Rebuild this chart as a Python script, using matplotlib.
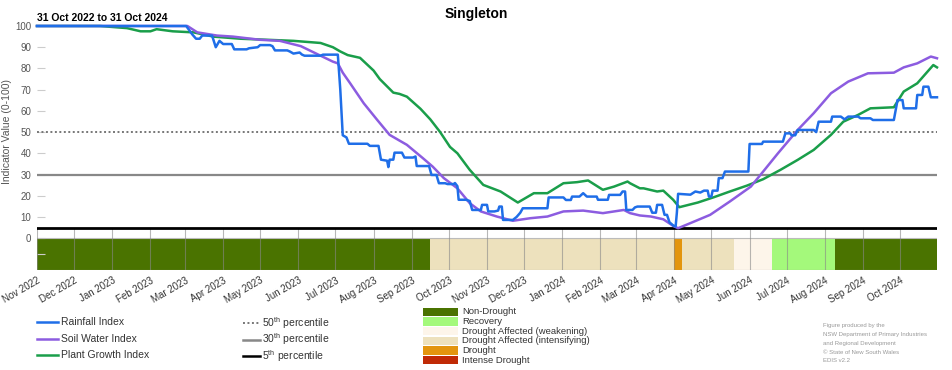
import numpy as np
import pandas as pd
import matplotlib
matplotlib.use("Agg")
import matplotlib.pyplot as plt
import matplotlib.dates as mdates
from matplotlib.patches import Rectangle

plt.rcParams['font.family'] = ['Liberation Sans', 'DejaVu Sans']
plt.rcParams['mathtext.fontset'] = 'custom'
plt.rcParams['mathtext.rm'] = 'Liberation Sans'

# ---------------- data ----------------
START = "2022-11-01"
END = "2024-10-31"
title = "Singleton"
subtitle = "31 Oct 2022 to 31 Oct 2024"

# day offsets from START and index values
rain_days = [0, 121, 126, 129, 132, 134, 142, 145, 148, 151, 158, 160, 170, 172, 179, 181, 189, 191, 193, 203,
             205, 208, 213, 215, 217, 230, 232, 244, 246, 248, 251, 253, 268, 270, 277, 279, 284, 285, 286, 289,
             290, 296, 298, 305, 307, 308, 318, 320, 324, 326, 331, 333, 338, 339, 341, 342, 348, 351, 353, 360,
             361, 365, 366, 371, 374, 375, 377, 378, 386, 389, 392, 394, 414, 415, 427, 429, 433, 434, 440, 443,
             446, 454, 455, 463, 464, 473, 475, 477, 478, 483, 485, 487, 497, 499, 502, 503, 507, 509, 511, 513,
             516, 518, 519, 520, 530, 534, 538, 541, 544, 545, 547, 548, 552, 553, 556, 558, 577, 578, 588, 589,
             605, 607, 611, 612, 615, 617, 630, 632, 634, 644, 645, 652, 655, 658, 666, 668, 676, 678, 695, 698,
             702, 703, 713, 714, 718, 719, 723, 725, 730]
rain_vals = [100, 100, 96, 94, 94, 95.5, 95.5, 90, 93, 91.5, 91.5, 89, 89, 89.5, 90, 91, 91, 90.5, 88.5, 88.5,
             88, 87, 87.5, 86.5, 86, 86, 86.5, 86.5, 70, 48.5, 47.5, 44.5, 44.5, 43.5, 43.5, 37, 36.5, 33.5, 37, 37,
             40.3, 40.3, 38, 38, 38.5, 34, 34, 29.8, 29.8, 25.9, 25.9, 25.5, 25.5, 26, 24.5, 18.1, 18.1, 17.5, 13.3, 13.3,
             15.7, 15.7, 12.6, 12.6, 13, 14.9, 14.9, 8.6, 8.6, 10, 12, 14.1, 14.1, 19.2, 19.2, 18, 18, 19.6, 19.6, 21.2,
             19.6, 19.6, 18.1, 18.1, 20.4, 20.4, 22, 22, 13.3, 13.3, 14.5, 14.9, 14.9, 12, 12, 15.7, 15.7, 11, 11, 7.5,
             6, 5.5, 12, 20.9, 20.5, 22, 21.5, 22.4, 22.4, 19.6, 19.6, 22.4, 22.4, 28.3, 28.3, 31.4, 31.4, 44.4, 44.4, 45.5,
             45.5, 49.4, 49.4, 48.5, 48.5, 51, 51, 50, 54.9, 54.9, 57.3, 57.3, 56, 57.3, 57.3, 56.5, 56.5, 55.7, 55.7, 65.1,
             65.1, 61.2, 61.2, 67.5, 67.5, 71.4, 71.4, 66.4, 66.4]

soil_days = [0, 122, 130, 146, 159, 181, 197, 214, 230, 240, 244, 248, 254, 265, 276, 286, 294, 300, 313, 321,
             330, 341, 351, 360, 373, 386, 400, 414, 427, 443, 459, 476, 481, 489, 498, 508, 516, 520, 530, 546,
             562, 579, 589, 601, 617, 630, 644, 658, 674, 695, 703, 714, 725, 730]
soil_vals = [100, 100, 97, 95.5, 95, 93.5, 93, 90.5, 86, 83.2, 82.4, 78, 73, 63.6, 55.7, 48.7, 46, 44, 37.7, 33.7,
             28.3, 23.5, 16.5, 12.6, 10.2, 8.2, 9.4, 10.2, 12.6, 13, 11.8, 13.3, 11.8, 10.7, 10.2, 8.9, 5.8, 4.7, 7.1, 11,
             17.3, 24.3, 31.4, 40, 51, 58.9, 68.3, 73.8, 77.7, 78, 80.5, 82.4, 85.6, 84.8]

plant_days = [0, 51, 73, 84, 92, 97, 110, 127, 143, 165, 187, 208, 230, 240, 246, 252, 262, 273, 278, 289,
              294, 300, 311, 319, 327, 335, 341, 351, 362, 376, 390, 403, 414, 427, 438, 447, 459, 468, 479, 481,
              489, 492, 503, 508, 516, 521, 536, 549, 562, 576, 589, 603, 617, 630, 644, 654, 666, 676, 695, 703,
              714, 727, 730]
plant_vals = [100, 100, 99, 97.5, 97.5, 98.5, 97.5, 97, 95, 94, 93.5, 93, 92, 90, 88, 86.3, 85, 79, 75, 68.6,
              68, 66.7, 61, 56, 50, 43, 40, 32.2, 25.1, 22, 16.8, 21.2, 21.2, 25.9, 26.4, 27.2, 22.8, 24.3, 26.7, 25.9,
              23.5, 23.5, 22, 22.4, 18.1, 14.6, 16.8, 19.3, 22, 24.8, 27.8, 32.2, 36.9, 41.6, 48.7, 54.9, 58.1, 61.2, 61.7, 69.1,
              73, 81.6, 80.5]

series_names = ["Rainfall Index", "Soil Water Index", "Plant Growth Index"]
series_colors = ["#1f6ee8", "#8c5ce0", "#1a9e4a"]

percentile_values = [50, 30, 5]
percentile_labels = ["50$^{\\mathrm{th}}$ percentile", "30$^{\\mathrm{th}}$ percentile", "5$^{\\mathrm{th}}$ percentile"]

category_names = ["Non-Drought", "Recovery", "Drought Affected (weakening)",
                  "Drought Affected (intensifying)", "Drought", "Intense Drought"]
category_colors = ["#4a7300", "#a4f97b", "#fdf5ea", "#ede1bd", "#e3950e", "#c02a06"]

# category strip: segment start dates and category index
seg_starts = ["2022-11-01", "2023-09-16", "2024-04-01", "2024-04-07", "2024-05-19", "2024-06-19", "2024-08-09"]
seg_cats = [0, 3, 4, 3, 2, 1, 0]

credit_lines = ["Figure produced by the", "NSW Department of Primary Industries",
                "and Regional Development", "\u00a9 State of New South Wales", "EDIS v2.2"]

# ---------------- plot ----------------
start = pd.Timestamp(START)
end = pd.Timestamp(END)


def to_num(days):
    return mdates.date2num(start + pd.to_timedelta(np.asarray(days), unit="D"))


fig = plt.figure(figsize=(9.52, 3.70), dpi=100)
ax = fig.add_axes([37 / 952, 100 / 370, 900 / 952, 244 / 370])
ax.set_xlim(mdates.date2num(start), mdates.date2num(end))
ax.set_ylim(-15, 100)
for s in ax.spines.values():
    s.set_visible(False)

# category strip
seg_nums = [mdates.date2num(pd.Timestamp(d)) for d in seg_starts] + [mdates.date2num(end)]
for i, c in enumerate(seg_cats):
    ax.add_patch(Rectangle((seg_nums[i], -15), seg_nums[i + 1] - seg_nums[i], 15,
                           facecolor=category_colors[c], edgecolor='none', zorder=1))
ax.plot([seg_nums[0], seg_nums[-1]], [0, 0], color='#bbbbbb', lw=0.8, zorder=2)
ax.plot([seg_nums[0], seg_nums[-1]], [-15, -15], color='#999999', lw=0.8, zorder=2)

# month grid lines in strip region
months = pd.date_range("2022-11-01", "2024-10-01", freq="MS")
mnums = mdates.date2num(months)
ax.vlines(mnums, -15, 5, color='#888888', lw=0.8, alpha=0.6, zorder=3)

# percentile lines
ax.axhline(percentile_values[0], color='#777777', lw=1.4, ls=(0, (1, 1.3)), zorder=4)
ax.axhline(percentile_values[1], color='#888888', lw=1.6, zorder=4)
ax.axhline(percentile_values[2], color='black', lw=2.0, zorder=4)

# index lines
ax.plot(to_num(plant_days), plant_vals, color=series_colors[2], lw=1.8, zorder=5, clip_on=False)
ax.plot(to_num(soil_days), soil_vals, color=series_colors[1], lw=1.8, zorder=6, clip_on=False)
ax.plot(to_num(rain_days), rain_vals, color=series_colors[0], lw=1.8, zorder=7, clip_on=False)

# y axis
ax.set_yticks(range(0, 101, 10))
ax.set_yticks([-7.5], minor=True)
ax.tick_params(axis='y', which='both', direction='in', length=6, width=0.8, color='#cccccc',
               labelsize=7, labelcolor='#555555', pad=4)
ax.set_ylabel("Indicator Value (0-100)", fontsize=7.5, color='#555555')
ax.yaxis.set_label_coords(-0.028, (270 - 132) / 244)

# x axis
ax.set_xticks(mnums)
ax.set_xticklabels([m.strftime("%b %Y") for m in months], rotation=30, ha='right',
                   va='top', rotation_mode='anchor', fontsize=7, color='#333333')
ax.tick_params(axis='x', length=0, pad=4)

# titles
fig.text(476 / 952, 1 - 14 / 370, title, ha='center', va='center', fontsize=10, fontweight='bold')
fig.text(37 / 952, 1 - 18 / 370, subtitle, ha='left', va='center', fontsize=7.5, fontweight='bold')

# legends (pixel-coordinate overlay)
lax = fig.add_axes([0, 0, 1, 1])
lax.set_xlim(0, 952)
lax.set_ylim(370, 0)
lax.axis('off')
lax.patch.set_alpha(0)

narrow = ['Liberation Sans Narrow', 'Liberation Sans']
for i, (name, col) in enumerate(zip(series_names, series_colors)):
    y = 322 + 16.5 * i
    lax.plot([37, 58], [y, y], color=col, lw=1.8)
    lax.text(61, y, name, va='center', ha='left', fontsize=7.5, color='#333333', family=narrow)

pstyles = [dict(color='#777777', lw=1.4, ls=(0, (1, 1.3))), dict(color='#888888', lw=1.8),
           dict(color='black', lw=1.8)]
for i, (lab, st) in enumerate(zip(percentile_labels, pstyles)):
    y = 323 + 16.5 * i
    lax.plot([243, 260], [y, y], **st)
    lax.text(262, y, lab, va='center', ha='left', fontsize=7.5, color='#333333', family=narrow)

for i, (name, col) in enumerate(zip(category_names, category_colors)):
    y = 307.5 + 9.7 * i
    lax.add_patch(Rectangle((423, y), 35, 8.3, facecolor=col, edgecolor='none'))
    lax.text(462, y + 4.2, name, va='center', ha='left', fontsize=6.8, color='#333333', family=narrow)

for i, line in enumerate(credit_lines):
    lax.text(823, 326 + 8.7 * i, line, va='center', ha='left', fontsize=4.3, color='#999999')

fig.savefig("out.png", dpi=100)
